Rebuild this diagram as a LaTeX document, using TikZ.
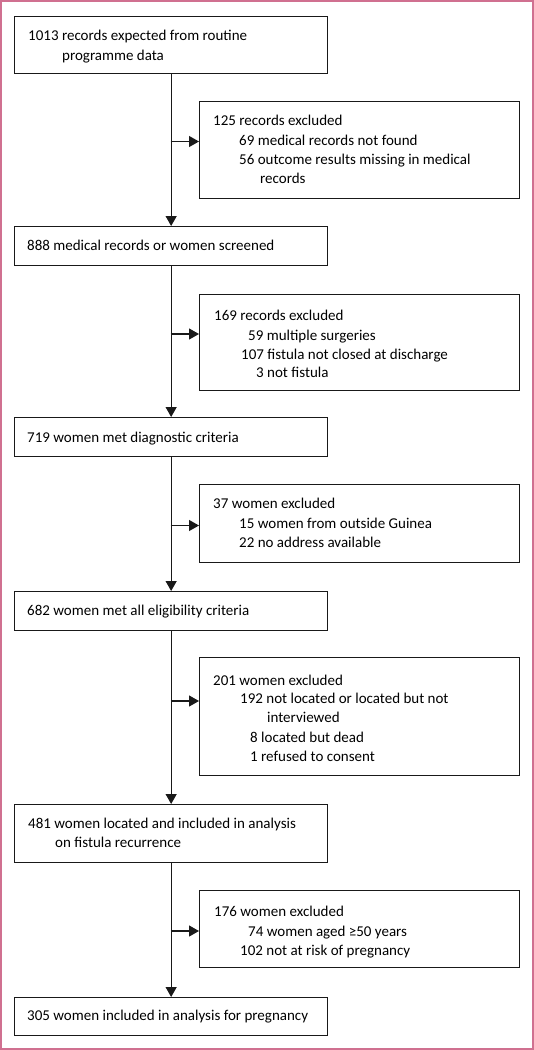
\documentclass[tikz,border=0pt]{standalone}
\usepackage{fontspec}
\setmainfont{Carlito}
\usetikzlibrary{arrows.meta}
\definecolor{pinkframe}{RGB}{208,112,144}
\definecolor{boxline}{RGB}{25,25,25}
\begin{document}
\begin{tikzpicture}[x=1pt,y=-1pt,
  every node/.style={font=\fontsize{15}{19}\selectfont},
  box/.style={draw=boxline, line width=1.3pt, inner sep=0pt, anchor=north west},
  lbox/.style={box, minimum width=313pt},
  rbox/.style={box, minimum width=320pt},
  txt/.style={anchor=base west, inner sep=0pt},
  arr/.style={draw=boxline, line width=1.2pt, -{Triangle[length=10pt,width=11pt]}}]
\useasboundingbox (0,0) rectangle (534,1050);
\draw[pinkframe, line width=2pt] (1,1) rectangle (533,1049);

% boxes
\node[lbox, minimum height=57pt]   (b1) at (14,16) {};
\node[rbox, minimum height=97pt]   (bA) at (199,101) {};
\node[lbox, minimum height=38.5pt] (b2) at (14,226) {};
\node[rbox, minimum height=96pt]   (bB) at (199,294) {};
\node[lbox, minimum height=39pt]   (b3) at (14,417) {};
\node[rbox, minimum height=78pt]   (bC) at (199,484) {};
\node[lbox, minimum height=38.5pt] (b4) at (14,591) {};
\node[rbox, minimum height=118pt]  (bD) at (199,657) {};
\node[lbox, minimum height=57.5pt] (b5) at (14,804) {};
\node[rbox, minimum height=77pt]   (bE) at (199,890) {};
\node[lbox, minimum height=38pt]   (b6) at (14,997) {};

% texts
\node[txt] (t1a) at (28,40.5) {1013 records expected from routine};
\node[txt] (t1b) at (62,60) {programme data};

\node[txt] (tAa) at (213,125.5) {125 records excluded};
\node[txt] (tAb) at (239,145) {69 medical records not found};
\node[txt] (tAc) at (239,164) {56 outcome results missing in medical};
\node[txt] (tAd) at (260,183) {records};

\node[txt] (t2) at (27,250) {888 medical records or women screened};

\node[txt] (tBa) at (214,320) {169 records excluded};
\node[txt] (tBb) at (248,340) {59 multiple surgeries};
\node[txt] (tBc) at (241,359) {107 fistula not closed at discharge};
\node[txt] (tBd) at (256,377.5) {3 not fistula};

\node[txt] (t3) at (27,442) {719 women met diagnostic criteria};

\node[txt] (tCa) at (213,508) {37 women excluded};
\node[txt] (tCb) at (239,528) {15 women from outside Guinea};
\node[txt] (tCc) at (239,547.5) {22 no address available};

\node[txt] (t4) at (27,615) {682 women met all eligibility criteria};

\node[txt] (tDa) at (213,685) {201 women excluded};
\node[txt] (tDb) at (240,703.5) {192 not located or located but not};
\node[txt] (tDc) at (267,722.5) {interviewed};
\node[txt] (tDd) at (250,742) {8 located but dead};
\node[txt] (tDe) at (250,761) {1 refused to consent};

\node[txt] (t5a) at (28,828) {481 women located and included in analysis};
\node[txt] (t5b) at (55,847) {on fistula recurrence};

\node[txt] (tEa) at (214,916) {176 women excluded};
\node[txt] (tEb) at (248,936) {74 women aged ≥50 years};
\node[txt] (tEc) at (240,955) {102 not at risk of pregnancy};

\node[txt] (t6) at (27,1020) {305 women included in analysis for pregnancy};

% junctions on the main line
\coordinate (j1) at (170.5,141.5);
\coordinate (j2) at (170.5,334);
\coordinate (j3) at (170.5,525.5);
\coordinate (j4) at (170.5,701);
\coordinate (j5) at (170.5,931);

% connectors
\draw[arr] (b1.south) -- (b2.north);
\draw[arr] (b2.south) -- (b3.north);
\draw[arr] (b3.south) -- (b4.north);
\draw[arr] (b4.south) -- (b5.north);
\draw[arr] (b5.south) -- (b6.north);
\draw[arr] (j1) -- (j1 -| bA.west);
\draw[arr] (j2) -- (j2 -| bB.west);
\draw[arr] (j3) -- (j3 -| bC.west);
\draw[arr] (j4) -- (j4 -| bD.west);
\draw[arr] (j5) -- (j5 -| bE.west);
\end{tikzpicture}
\end{document}
